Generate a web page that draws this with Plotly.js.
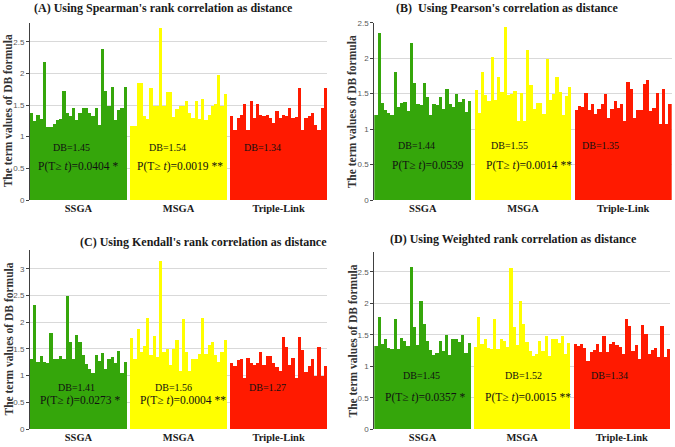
<!DOCTYPE html>
<html>
<head>
<meta charset="utf-8">
<script src="https://cdn.plot.ly/plotly-3.0.1.min.js"></script>
<style>html,body{margin:0;padding:0;background:#fff;}#chart{width:675px;height:447px;}</style>
</head>
<body>
<div id="chart"></div>
<script>
// ---------- data ----------
const categories = ['SSGA', 'MSGA', 'Triple-Link'];
const groupColors = ['#35a60b', '#ffff00', '#ff1a00'];

const panelTitles = [
  "(A) Using Spearman's rank correlation as distance",
  "(B)  Using Pearson's correlation as distance",
  "(C) Using Kendall's rank correlation as distance",
  "(D) Using Weighted rank correlation as distance"
];
const yTitle = 'The term values of DB formula';

const A_SSGA = [1.38,1.25,1.35,1.28,2.18,1.16,1.16,1.20,1.26,1.28,1.72,1.37,1.33,1.45,1.26,1.37,1.45,1.45,1.37,1.33,1.45,1.19,2.38,1.72,1.49,1.78,1.27,1.42,1.45,1.78];
const A_MSGA = [1.17,1.17,1.85,1.85,1.32,1.28,1.77,1.49,1.49,2.71,1.49,1.71,1.71,1.31,1.43,1.49,1.49,1.56,1.37,1.30,1.56,1.28,1.60,1.27,1.34,1.49,1.51,1.98,1.49,1.67];
const A_TL   = [1.32,1.11,1.29,1.34,1.52,1.11,1.56,1.30,1.52,1.35,1.32,1.34,1.29,1.21,1.41,1.30,1.34,1.32,1.46,1.30,1.31,1.77,1.10,1.29,1.32,1.37,1.18,1.11,1.45,1.77];

const B_SSGA = [1.20,2.36,1.37,1.27,1.23,1.20,1.80,1.31,1.37,1.38,1.25,2.22,1.65,1.36,1.34,1.65,1.45,1.20,1.35,1.34,1.45,1.29,1.57,1.36,1.31,1.50,1.38,1.43,1.24,1.39];
const B_MSGA = [1.55,1.23,1.81,1.48,1.39,2.01,1.41,1.73,1.52,2.44,1.48,1.50,1.53,1.12,1.51,1.12,2.12,1.62,1.28,1.37,1.37,1.21,1.99,1.41,1.50,1.73,1.52,1.20,1.47,1.59];
const B_TL   = [1.27,1.33,1.31,1.51,1.27,1.35,1.21,1.29,1.35,1.50,1.15,1.29,1.39,1.30,1.35,1.11,1.67,1.56,1.15,1.27,1.27,1.64,1.69,1.26,1.30,1.51,1.07,1.56,1.07,1.35];

const C_SSGA = [1.31,2.33,1.25,1.36,1.25,1.23,1.79,1.31,1.31,1.36,1.31,2.49,1.62,1.31,1.76,1.62,1.39,1.21,1.13,1.05,1.39,1.28,1.43,1.12,1.31,1.34,1.23,1.46,1.05,1.25];
const C_MSGA = [1.70,1.31,1.87,1.44,1.56,2.08,1.38,1.74,1.35,3.14,1.44,1.50,1.19,1.50,1.66,1.08,2.06,1.45,1.08,1.31,1.31,1.40,2.08,1.40,1.57,1.62,1.38,1.26,1.44,1.66];
const C_TL   = [1.23,1.18,1.29,1.31,0.95,1.33,1.23,1.20,1.23,1.45,1.20,1.36,1.36,1.23,1.16,1.09,1.72,1.54,1.20,1.33,0.95,1.72,1.48,1.07,1.18,1.31,1.00,1.54,1.00,1.18];

const D_SSGA = [1.32,1.79,1.36,1.44,1.29,1.27,1.75,1.27,1.45,1.40,1.32,2.57,1.63,1.34,2.04,1.68,1.40,1.26,1.18,1.21,1.41,1.25,1.49,1.18,1.44,1.44,1.38,1.49,1.21,1.37];
const D_MSGA = [1.31,1.79,1.36,1.44,1.29,1.27,1.75,1.27,1.44,1.40,1.31,2.56,1.62,1.34,2.03,1.67,1.38,1.25,1.17,1.20,1.40,1.24,1.48,1.17,1.43,1.43,1.37,1.48,1.20,1.37];
const D_TL   = [1.36,1.33,1.35,1.29,1.09,1.22,1.26,1.36,1.22,1.48,1.22,1.35,1.39,1.34,1.30,1.20,1.75,1.64,1.24,1.34,1.11,1.65,1.51,1.20,1.26,1.29,1.15,1.64,1.15,1.27];

const A_db = ['DB=1.45', 'DB=1.54', 'DB=1.34'];
const A_p  = ['P(T\u2265 <i>t</i>)=0.0404 *', 'P(T\u2265 <i>t</i>)=0.0019 **', ''];
const B_db = ['DB=1.44', 'DB=1.55', 'DB=1.35'];
const B_p  = ['P(T\u2265 <i>t</i>)=0.0539', 'P(T\u2265 <i>t</i>)=0.0014 **', ''];
const C_db = ['DB=1.41', 'DB=1.56', 'DB=1.27'];
const C_p  = ['P(T\u2265 <i>t</i>)=0.0273 *', 'P(T\u2265 <i>t</i>)=0.0004 **', ''];
const D_db = ['DB=1.45', 'DB=1.52', 'DB=1.34'];
const D_p  = ['P(T\u2265 <i>t</i>)=0.0357 *', 'P(T\u2265 <i>t</i>)=0.0015 **', ''];

// ---------- build ----------
const panels = [
  {series: [A_SSGA, A_MSGA, A_TL], db: A_db, p: A_p},
  {series: [B_SSGA, B_MSGA, B_TL], db: B_db, p: B_p},
  {series: [C_SSGA, C_MSGA, C_TL], db: C_db, p: C_p},
  {series: [D_SSGA, D_MSGA, D_TL], db: D_db, p: D_p}
];

// layout configuration (pixel geometry of the 675x447 canvas)
const W = 675, H = 447;
const geo = [
  {x0: 30,    x1: 327,   yBot: 200,   yTop: 22.7, yMax: 2.8,  tx: 163, ty: 7.5, ytx: 8,   dbY: 0.83, pY: 0.53, dbX: [12.5, 42.2, 71.6], pX: [14.4, 46.0]},
  {x0: 374.3, x1: 671.7, yBot: 200,   yTop: 22.7, yMax: 2.5,  tx: 507, ty: 7.5, ytx: 352, dbY: 0.77, pY: 0.48, dbX: [12.6, 41.2, 69.6], pX: [16.2, 47.2]},
  {x0: 30,    x1: 327,   yBot: 429,   yTop: 250,  yMax: 3.35, tx: 203, ty: 242, ytx: 8,   dbY: 0.77, pY: 0.53, dbX: [14.0, 44.1, 73.2], pX: [15.0, 47.0]},
  {x0: 374.3, x1: 670,   yBot: 429.3, yTop: 251.7,yMax: 2.82, tx: 513, ty: 239, ytx: 352, dbY: 0.86, pY: 0.50, dbX: [14.2, 45.9, 72.8], pX: [15.2, 47.2]}
];

const STEP = 31; // 30 bars per group + 1 empty slot
const serif = 'Liberation Serif, Times New Roman, serif';
const data = [];
const annotations = [];
const layout = {
  width: W, height: H,
  margin: {l: 0, r: 0, t: 0, b: 0},
  paper_bgcolor: '#ffffff', plot_bgcolor: '#ffffff',
  showlegend: false,
  barmode: 'overlay', bargap: 0,
  annotations: annotations
};

const allTicks = [0, 0.5, 1, 1.5, 2, 2.5, 3];
const allTickText = ['0', '0.5', '1', '1.5', '2', '2.5', '3'];

panels.forEach((pn, k) => {
  const sfx = k === 0 ? '' : String(k + 1);
  const g = geo[k];
  pn.series.forEach((vals, gi) => {
    data.push({
      type: 'bar',
      x: vals.map((v, i) => gi * STEP + i),
      y: vals,
      width: 1,
      marker: {color: groupColors[gi], line: {width: 0}},
      xaxis: 'x' + sfx, yaxis: 'y' + sfx,
      hoverinfo: 'y'
    });
  });
  const n = pn.series[0].length;
  layout['xaxis' + sfx] = {
    domain: [g.x0 / W, g.x1 / W],
    range: [-0.5, 2 * STEP + n - 0.5],
    anchor: 'y' + sfx,
    tickmode: 'array',
    tickvals: categories.map((c, gi) => gi * STEP + (n - 1) / 2),
    ticktext: categories,
    tickfont: {family: serif, size: 10.5, color: '#1a1a1a', weight: 'bold'},
    ticks: '', showgrid: false, zeroline: false, showline: false,
    fixedrange: true
  };
  layout['yaxis' + sfx] = {
    domain: [(H - g.yBot) / H, (H - g.yTop) / H],
    range: [0, g.yMax],
    anchor: 'x' + sfx,
    tickmode: 'array',
    tickvals: allTicks.filter(v => v <= g.yMax),
    ticktext: allTickText.filter((t, i) => allTicks[i] <= g.yMax),
    tickfont: {family: 'Liberation Sans, Arial, sans-serif', size: 8, color: '#595959'},
    ticks: 'outside', ticklen: 3, tickcolor: '#404040',
    showline: true, linecolor: '#404040', linewidth: 1,
    showgrid: true, gridcolor: '#d9d9d9', gridwidth: 1,
    zeroline: false, fixedrange: true
  };
  // panel title
  annotations.push({
    xref: 'paper', yref: 'paper', x: g.tx / W, y: (H - g.ty) / H,
    xanchor: 'center', yanchor: 'middle', showarrow: false,
    text: panelTitles[k],
    font: {family: serif, size: 12, color: '#1a1a1a', weight: 'bold'}
  });
  // y-axis title
  annotations.push({
    xref: 'paper', yref: 'y' + sfx + ' domain', x: g.ytx / W, y: 0.5,
    xanchor: 'center', yanchor: 'middle', showarrow: false, textangle: -90,
    text: yTitle,
    font: {family: serif, size: 11.5, color: '#333333', weight: 'bold'}
  });
  // DB / p-value annotations
  pn.db.forEach((t, gi) => {
    annotations.push({
      xref: 'x' + sfx, yref: 'y' + sfx, x: g.dbX[gi], y: g.dbY,
      xanchor: 'center', yanchor: 'middle', showarrow: false,
      text: t, font: {family: serif, size: 10, color: '#111111'}
    });
  });
  pn.p.forEach((t, gi) => {
    if (!t) return;
    annotations.push({
      xref: 'x' + sfx, yref: 'y' + sfx, x: g.pX[gi], y: g.pY,
      xanchor: 'center', yanchor: 'middle', showarrow: false,
      text: t, font: {family: serif, size: 11.5, color: '#111111'}
    });
  });
});

Plotly.newPlot('chart', data, layout, {displayModeBar: false, staticPlot: true});
</script>
</body>
</html>
